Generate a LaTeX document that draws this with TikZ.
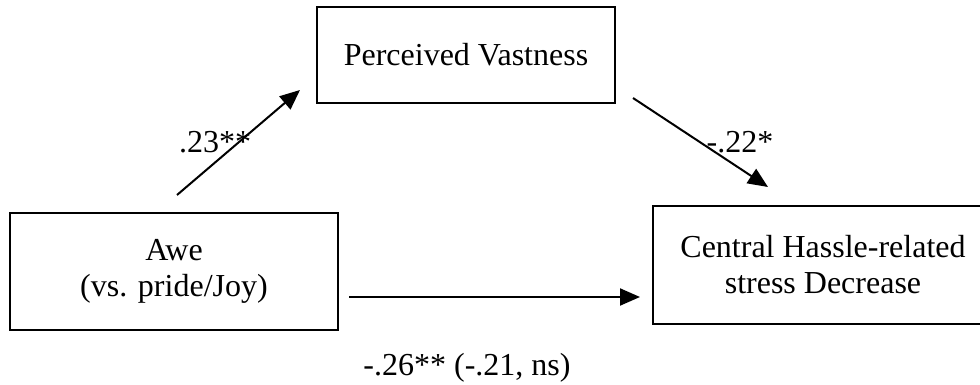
\documentclass[tikz,border=0pt]{standalone}
\usepackage{fontspec}
\setmainfont{Liberation Serif}
\usetikzlibrary{arrows.meta}
\newcommand{\boxrule}{1pt}
\tikzset{varbox/.style={rectangle, draw, line width=\boxrule, align=center, inner sep=0pt, font=\fontsize{16}{18}\selectfont}}
\tikzset{coeflbl/.style={inner sep=0pt, anchor=base, font=\fontsize{16}{18}\selectfont}}
\tikzset{patharr/.style={line width=\boxrule, -{Triangle[length=10pt,width=8.5pt]}}}

\begin{document}
\begin{tikzpicture}[x=0.5pt,y=-0.5pt]
\useasboundingbox (0,0) rectangle (980,385);

\node[varbox, minimum width=149pt, minimum height=48pt] (vast) at (466,55) {Perceived Vastness};
\node[varbox, minimum width=164pt, minimum height=58.5pt] (awe) at (174,271.5) {Awe\\(vs. pride/Joy)};
\node[varbox, minimum width=170pt, minimum height=59pt] (stress) at (823,265) {Central Hassle-related\\stress Decrease};

\coordinate (a) at (177,195);
\coordinate (b) at (300,90);
\coordinate (c) at (633,98);
\coordinate (d) at (768,187);
\coordinate (e) at (349,297);
\coordinate (f) at (640,297);

\draw[patharr] (a) -- (b);
\draw[patharr] (c) -- (d);
\draw[patharr] (e) -- (f);

\node[coeflbl] (ab) at (215,153) {.23**};
\node[coeflbl] (cd) at (740,153) {-.22*};
\node[coeflbl] (ef) at (467,375) {-.26** (-.21, ns)};

\end{tikzpicture}
\end{document}
